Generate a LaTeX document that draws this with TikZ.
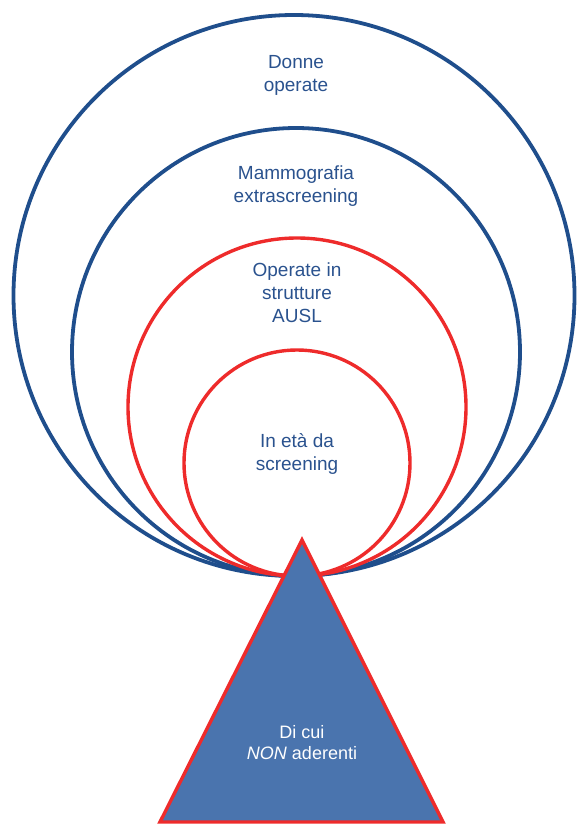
\documentclass[tikz,border=0pt]{standalone}
\usepackage{fontspec}
\setmainfont{Liberation Sans}
\definecolor{cblue}{HTML}{1F4E8C}
\definecolor{ctext}{HTML}{2A528E}
\definecolor{cred}{HTML}{EE2B2B}
\definecolor{cfill}{HTML}{4A74AE}
\tikzset{
  ring/.style={circle, draw, inner sep=0pt},
  bluering/.style={ring, draw=cblue, line width=3.8pt},
  redring/.style={ring, draw=cred, line width=3.4pt},
  lbl/.style={align=center, text=ctext, font=\fontsize{19}{23}\selectfont, inner sep=0pt},
  wlbl/.style={align=center, text=white, font=\fontsize{18}{21}\selectfont, inner sep=0pt}
}
\begin{document}
\begin{tikzpicture}[x=1pt,y=-1pt]
\useasboundingbox (0,0) rectangle (577,827);
\node[bluering, minimum size=561pt] (c1) at (294,295.5) {};
\node[bluering, minimum size=448pt] (c2) at (296,352) {};
\node[redring, minimum size=338pt] (c3) at (297,407) {};
\node[redring, minimum size=226pt] (c4) at (297,463) {};
\coordinate (apex) at (302,540);
\coordinate (bl) at (160,822);
\coordinate (br) at (443,822);
\draw[fill=cfill, draw=cred, line width=3.4pt, line join=miter] (apex) -- (bl) -- (br) -- cycle;
\node[lbl] (t1) at (296,75) {Donne\\operate};
\node[lbl] (t2) at (296,186) {Mammografia\\extrascreening};
\node[lbl] (t3) at (297,293) {Operate in\\strutture\\AUSL};
\node[lbl] (t4) at (297,454) {In età da\\screening};
\node[wlbl] (t5) at (302,743) {Di cui\\\textit{NON} aderenti};
\end{tikzpicture}
\end{document}
